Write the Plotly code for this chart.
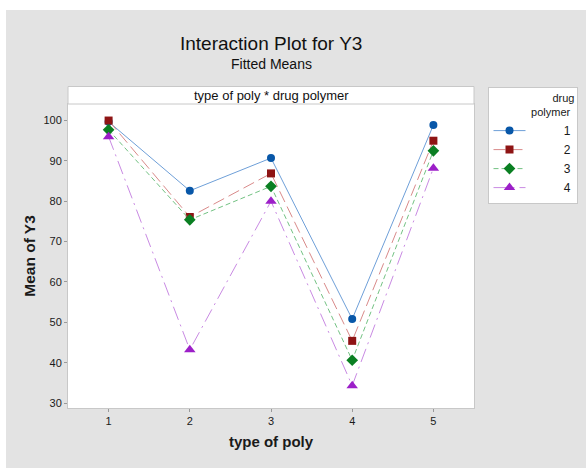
import plotly.graph_objects as go

# ---- data ----
poly_types = [1, 2, 3, 4, 5]
drug_levels = ["1", "2", "3", "4"]
mean_dp1 = [99.7, 82.6, 90.7, 50.8, 98.9]
mean_dp2 = [100.0, 76.1, 86.9, 45.4, 95.0]
mean_dp3 = [97.7, 75.4, 83.7, 40.6, 92.5]
mean_dp4 = [96.0, 43.2, 80.0, 34.3, 88.2]
series = [mean_dp1, mean_dp2, mean_dp3, mean_dp4]
y_ticks = [30, 40, 50, 60, 70, 80, 90, 100]

# ---- styles ----
marker_colors = ["#0857A8", "#8E1414", "#0A7F22", "#9C1FC8"]
line_colors = ["#6E9FD8", "#D98A8A", "#73C283", "#C98AE3"]
dashes = ["solid", "12px,5px", "5px,3px", "14px,5px,2px,5px"]
symbols = ["circle", "square", "diamond", "triangle-up"]
sizes = [8, 8, 9, 10]

fig = go.Figure()
for i, vals in enumerate(series):
    fig.add_trace(go.Scatter(
        x=poly_types, y=vals, mode="lines+markers",
        name="\u00a0" * 10 + drug_levels[i],
        line=dict(color=line_colors[i], width=1, dash=dashes[i]),
        marker=dict(symbol=symbols[i], size=sizes[i], color=marker_colors[i],
                    line=dict(width=0)),
    ))

L, R, T, B = 68, 112, 104, 60
W, H = 586, 468
pw = W - L - R
ph = H - T - B

def px_x(x):
    return (x - L) / pw

def px_y(y):
    return (H - B - y) / ph

font = "Liberation Sans, Arial, sans-serif"

fig.update_layout(
    width=W, height=H, autosize=False,
    margin=dict(l=L, r=R, t=T, b=B, pad=0, autoexpand=False),
    paper_bgcolor="#e3e3e3", plot_bgcolor="white",
    font=dict(family=font, color="#1a1a1a"),
    showlegend=True,
    legend=dict(
        x=px_x(487.5), y=px_y(86.5), xanchor="left", yanchor="top",
        bgcolor="white", bordercolor="#c8c8c8", borderwidth=1,
        font=dict(size=12, family=font, color="#1a1a1a"),
        title=dict(text="\u00a0" * 7 + "drug<br>polymer",
                   font=dict(size=11, family=font), side="top right"),
        itemwidth=32, tracegroupgap=0,
    ),
    xaxis=dict(
        range=[0.5, 5.5], tickvals=poly_types, ticktext=[str(v) for v in poly_types],
        ticks="outside", ticklen=3, tickcolor="#9a9a9a",
        showgrid=False, zeroline=False, showline=True, linecolor="#c8c8c8",
        mirror=True, tickfont=dict(size=11, color="#1a1a1a"),
        title=dict(text="<b>type of poly</b>", font=dict(size=15), standoff=10),
    ),
    yaxis=dict(
        range=[28.76, 104.1], tickvals=y_ticks,
        ticks="outside", ticklen=3, tickcolor="#9a9a9a",
        showgrid=False, zeroline=False, showline=True, linecolor="#c8c8c8",
        mirror=True, tickfont=dict(size=11, color="#1a1a1a"),
        title=dict(text="<b>Mean of Y3</b>", font=dict(size=15.5), standoff=4),
    ),
    shapes=[
        # white margins at top and left
        dict(type="rect", xref="paper", yref="paper", x0=-0.3, x1=1.4,
             y0=px_y(10), y1=1.5, fillcolor="white", line=dict(width=0), layer="below"),
        dict(type="rect", xref="paper", yref="paper", x0=-0.3, x1=px_x(6),
             y0=-0.3, y1=1.5, fillcolor="white", line=dict(width=0), layer="below"),
        # header strip
        dict(type="rect", xref="paper", yref="paper", x0=0, x1=1,
             y0=1, y1=px_y(86.5), fillcolor="white",
             line=dict(color="#c8c8c8", width=1)),
    ],
    annotations=[
        dict(text="Interaction Plot for Y3", xref="paper", yref="paper",
             x=0.5, y=px_y(43), xanchor="center", yanchor="middle",
             showarrow=False, font=dict(size=19, color="#111")),
        dict(text="Fitted Means", xref="paper", yref="paper",
             x=0.5, y=px_y(64), xanchor="center", yanchor="middle",
             showarrow=False, font=dict(size=14, color="#111")),
        dict(text="type of poly * drug polymer", xref="paper", yref="paper",
             x=0.5, y=(1 + px_y(86.5)) / 2, xanchor="center", yanchor="middle",
             showarrow=False, font=dict(size=13, color="#111")),
    ],
)

fig.write_html("out.html")
